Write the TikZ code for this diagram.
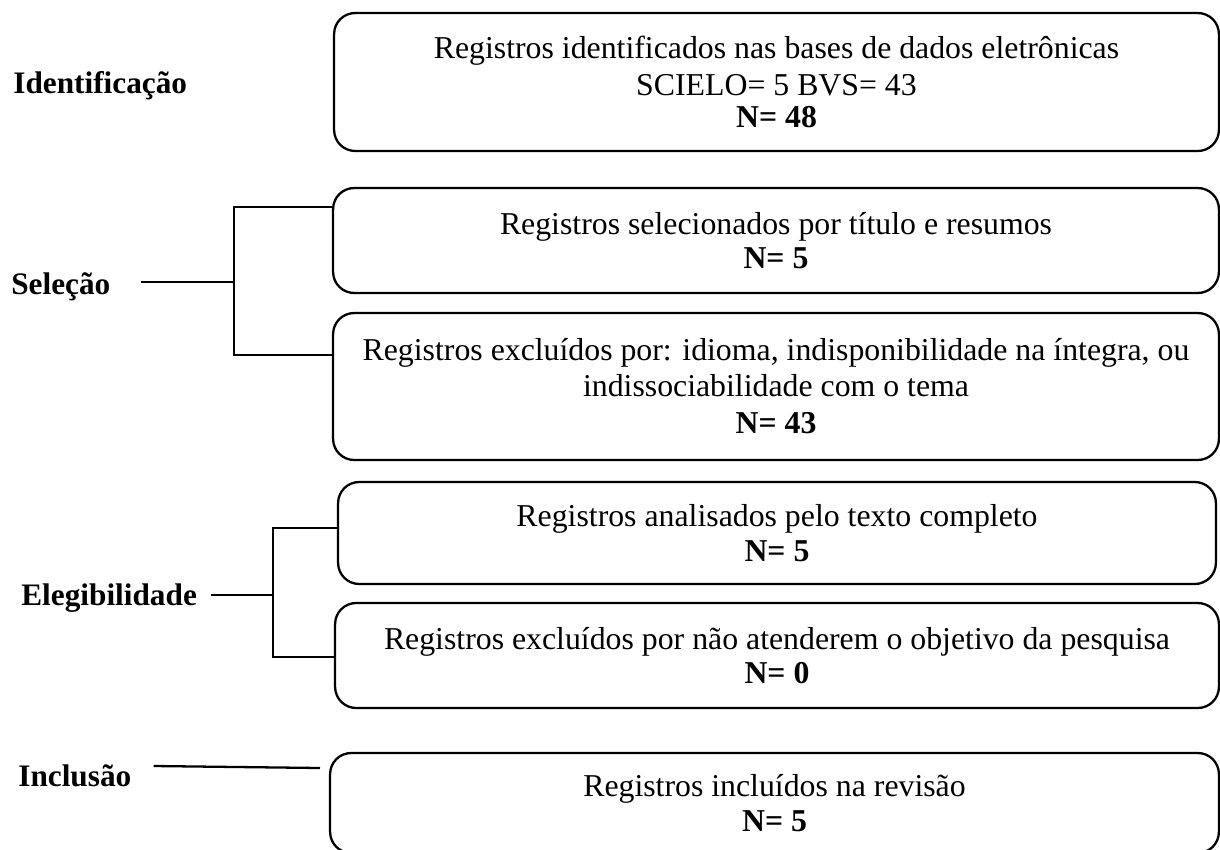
\documentclass[tikz,border=0pt]{standalone}
\usepackage{fontspec}
\setmainfont{Liberation Serif}
\usetikzlibrary{positioning,calc}

\tikzset{
  regbox/.style={draw, line width=1.3pt, rounded corners=12pt, align=center,
    inner sep=0pt, font=\fontsize{18.1}{19.5}\selectfont},
  phase/.style={anchor=base west, inner sep=0pt,
    font=\fontsize{17.8}{20}\selectfont\bfseries},
  link/.style={line width=1.3pt},
}

\begin{document}
\begin{tikzpicture}[x=0.02cm, y=-0.02cm]
  \clip (0,0) rectangle (1220,849);
  % phases
  \node[phase] (ident) at (13,93) {Identificação};
  \node[phase] (sel) at (11,294) {Seleção};
  \node[phase] (eleg) at (21,605) {Elegibilidade};
  \node[phase] (incl) at (18,786) {Inclusão};
  % records
  \node[regbox, minimum width=17.7cm, minimum height=2.76cm] (b1) at (776.5,82)
    {Registros identificados nas bases de dados eletrônicas\\[1.5pt]
     SCIELO= 5 BVS= 43\\[-1.5pt] \textbf{N= 48}};
  \node[regbox, minimum width=17.72cm, minimum height=2.1cm] (b2) at (776,240.5)
    {Registros selecionados por título e resumos\\ \textbf{N= 5}};
  \node[regbox, minimum width=17.72cm, minimum height=2.94cm] (b3) at (776,386.5)
    {Registros excluídos por: idioma, indisponibilidade na íntegra, ou\\[0.5pt]
     indissociabilidade com o tema\\[2pt] \textbf{N= 43}};
  \node[regbox, minimum width=17.56cm, minimum height=2.04cm] (b4) at (777,533)
    {Registros analisados pelo texto completo\\ \textbf{N= 5}};
  \node[regbox, minimum width=17.68cm, minimum height=2.1cm] (b5) at (777,655.5)
    {Registros excluídos por não atenderem o objetivo da pesquisa\\ \textbf{N= 0}};
  \node[regbox, minimum width=17.78cm, minimum height=2cm] (b6) at (774.5,803)
    {Registros incluídos na revisão\\ \textbf{N= 5}};
  % brackets
  \coordinate (selup) at (234,207);
  \coordinate (selmid) at (234,282);
  \coordinate (seldn) at (234,355);
  \draw[link] ($(sel.base east)+(30,-12)$) -- (selmid);
  \draw[link] (b2.west |- selup) -- (selup) -- (seldn) -- (b3.west |- seldn);
  \coordinate (elegup) at (273,528);
  \coordinate (elegmid) at (273,595);
  \coordinate (elegdn) at (273,657);
  \draw[link] ($(eleg.base east)+(14,-10)$) -- (elegmid);
  \draw[link] (b4.west |- elegup) -- (elegup) -- (elegdn) -- (b5.west |- elegdn);
  \coordinate (inclend) at (320,768);
  \draw[link] ($(incl.base east)+(22,-20)$) -- (inclend);
\end{tikzpicture}
\end{document}
